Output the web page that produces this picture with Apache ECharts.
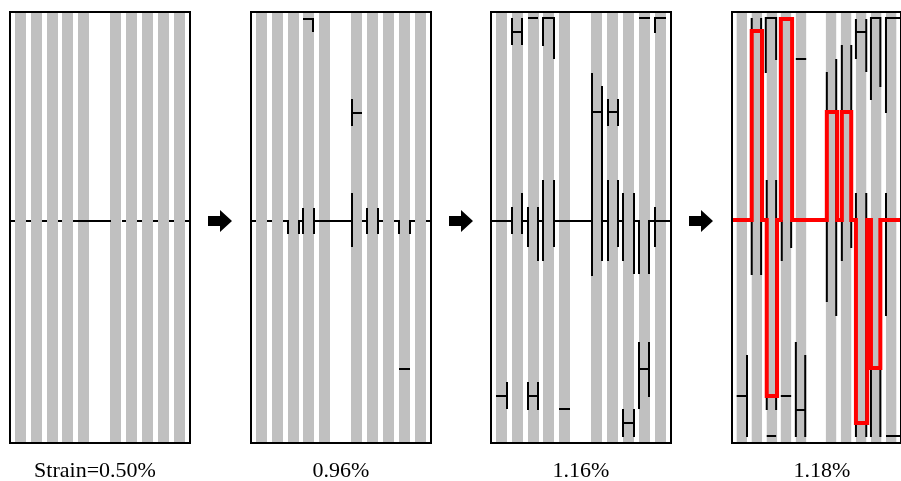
<!DOCTYPE html>
<html>
<head>
<meta charset="utf-8">
<script src="https://cdn.jsdelivr.net/npm/echarts@6/dist/echarts.min.js"></script>
<style>html,body{margin:0;padding:0;background:#fff}#c{width:901px;height:481px}</style>
</head>
<body>
<div id="c"></div>
<script>
// ---------- data ----------
const strainLabels = ['Strain=0.50%', '0.96%', '1.16%', '1.18%'];
const fiberLeft = [5, 21, 37, 52, 68, 100, 116, 132, 148, 164];
const fiberWidth = 11;
const panelW = 180, panelH = 431;

const cracks1 = [
  [[0,209],[5,209]], [[16,209],[21,209]], [[32,209],[37,209]], [[48,209],[52,209]],
  [[63,209],[101,209]], [[112,209],[116,209]], [[127,209],[132,209]],
  [[143,209],[148,209]], [[159,209],[164,209]], [[175,209],[180,209]]
];
const cracks2 = [
  [[52,7],[62,7],[62,20]],
  [[101,87],[101,114]], [[101,101],[111,101]],
  [[0,209],[5,209]], [[16,209],[21,209]],
  [[32,209],[37,209],[37,222]],
  [[48,222],[48,209],[52,209]], [[52,196],[52,222]],
  [[63,196],[63,222]], [[63,209],[101,209]], [[101,181],[101,235]],
  [[111,209],[116,209]], [[116,196],[116,222]],
  [[127,196],[127,222]], [[127,209],[132,209]],
  [[143,209],[148,209],[148,222]],
  [[159,222],[159,209],[164,209]],
  [[175,209],[180,209]],
  [[148,357],[159,357]]
];
const cracks3 = [
  [[21,6],[21,33]], [[31,6],[31,33]], [[21,20],[31,20]],
  [[37,6],[47,6]],
  [[52,34],[52,6],[63,6],[63,47]],
  [[148,6],[159,6]],
  [[164,21],[164,6],[175,6]],
  [[101,61],[101,264]], [[111,74],[111,249]], [[101,100],[111,100]],
  [[117,87],[117,114]], [[127,87],[127,114]], [[117,100],[127,100]],
  [[0,209],[21,209]], [[21,195],[21,222]],
  [[31,181],[31,222]], [[31,209],[37,209]],
  [[37,195],[37,235]],
  [[47,195],[47,249]], [[47,209],[52,209]],
  [[52,168],[52,249]],
  [[63,168],[63,235]], [[63,209],[101,209]],
  [[111,209],[116,209]],
  [[117,168],[117,249]],
  [[127,168],[127,235]], [[127,209],[132,209]],
  [[132,181],[132,249]],
  [[143,181],[143,262]], [[143,209],[148,209],[148,262]],
  [[158,262],[158,209],[164,209]], [[164,195],[164,235]], [[164,209],[180,209]],
  [[5,384],[16,384]], [[16,370],[16,397]],
  [[37,370],[37,398]], [[47,370],[47,398]], [[37,384],[47,384]],
  [[68,397],[79,397]],
  [[148,330],[148,397]], [[158,330],[158,385]], [[148,357],[158,357]],
  [[132,397],[132,425]], [[143,397],[143,425]], [[132,411],[143,411]]
];
const cracks4 = [
  [[21,6],[21,263]], [[31,6],[31,263]],
  [[36,61],[36,6],[47,6],[47,48]],
  [[37,168],[37,398]], [[47,168],[47,398]],
  [[68,47],[79,47]],
  [[53,208],[53,249]], [[63,208],[63,236]],
  [[101,60],[101,290]], [[111,47],[111,304]],
  [[117,33],[117,249]], [[127,33],[127,236]],
  [[132,7],[132,47]], [[143,7],[143,60]], [[132,20],[143,20]],
  [[132,181],[132,425]], [[143,181],[143,425]],
  [[148,88],[148,6],[158,6],[158,75]],
  [[164,101],[164,6],[180,6]],
  [[164,181],[164,304]],
  [[148,357],[148,425]], [[158,357],[158,425]],
  [[5,384],[16,384]], [[16,343],[16,425]],
  [[37,424],[47,424]],
  [[52,384],[63,384]],
  [[68,330],[68,425]], [[78,343],[78,425]], [[68,398],[78,398]],
  [[164,424],[180,424]]
];
const crackPath4 = [
  [0,208],[21,208],[21,19],[32,19],[32,208],[37,208],[37,384],[48,384],[48,208],
  [52,208],[52,7],[64,7],[64,208],[101,208],[101,100],[112,100],[112,208],
  [117,208],[117,100],[127,100],[127,208],[132,208],[132,411],[144,411],[144,208],
  [148,208],[148,356],[158,356],[158,208],[180,208]
];
const panelCracks = [cracks1, cracks2, cracks3, cracks4];

// ---------- layout ----------
const panelLeft = [10, 251, 491, 732];
const panelTop = 12;

const grids = [], xAxes = [], yAxes = [], series = [], graphics = [];
panelLeft.forEach((left, p) => {
  grids.push({left: left, top: panelTop, width: panelW, height: panelH, show: false});
  xAxes.push({gridIndex: p, type: 'value', min: 0, max: panelW, show: false});
  yAxes.push({gridIndex: p, type: 'value', min: 0, max: panelH, inverse: true, show: false});
  // fibers
  series.push({
    type: 'custom', xAxisIndex: p, yAxisIndex: p, z: 1, silent: true,
    data: fiberLeft.map(v => [v, 0]),
    renderItem: (params, api) => {
      const x = api.value(0);
      const a = api.coord([x, 0]), b = api.coord([x + fiberWidth, panelH]);
      return {type: 'rect', shape: {x: a[0], y: a[1], width: b[0] - a[0], height: b[1] - a[1]}, style: {fill: '#c0c0c0'}};
    }
  });
  // cracks
  const cr = panelCracks[p];
  series.push({
    type: 'custom', xAxisIndex: p, yAxisIndex: p, z: 3, silent: true,
    data: cr.map((c, i) => [c[0][0], c[0][1], i]),
    renderItem: (params, api) => {
      const pts = cr[params.dataIndex].map(pt => api.coord(pt));
      return {type: 'polyline', shape: {points: pts}, style: {stroke: '#000', lineWidth: 2, fill: null}};
    }
  });
  // frame
  series.push({
    type: 'custom', xAxisIndex: p, yAxisIndex: p, z: 6, silent: true,
    data: [[0, 0]],
    renderItem: (params, api) => {
      const a = api.coord([0, 0]), b = api.coord([panelW, panelH]);
      return {type: 'rect', shape: {x: a[0], y: a[1], width: b[0] - a[0], height: b[1] - a[1]}, style: {stroke: '#000', lineWidth: 2, fill: null}};
    }
  });
  // label
  graphics.push({
    type: 'text', x: left + panelW / 2 - (p === 0 ? 5 : 0), y: 471,
    style: {text: strainLabels[p], font: '22px "Liberation Serif", "DejaVu Serif", serif', fill: '#000', align: 'center', verticalAlign: 'middle'}
  });
});
// red crack path in last panel
series.push({
  type: 'custom', xAxisIndex: 3, yAxisIndex: 3, z: 5, silent: true,
  data: [[0, 208]],
  renderItem: (params, api) => ({
    type: 'polyline', shape: {points: crackPath4.map(pt => api.coord(pt))},
    style: {stroke: '#ff0000', lineWidth: 4, fill: null, lineJoin: 'miter'}
  })
});
// arrows between panels
[220, 461, 701].forEach(cx => {
  const cy = 221;
  graphics.push({
    type: 'polygon',
    shape: {points: [[cx-12,cy-5],[cx,cy-5],[cx,cy-11],[cx+12,cy],[cx,cy+11],[cx,cy+5],[cx-12,cy+5]]},
    style: {fill: '#000'}
  });
});

const chart = echarts.init(document.getElementById('c'), null, {renderer: 'canvas'});
chart.setOption({
  animation: false,
  backgroundColor: '#fff',
  grid: grids, xAxis: xAxes, yAxis: yAxes,
  series: series,
  graphic: graphics
});
</script>
</body>
</html>
